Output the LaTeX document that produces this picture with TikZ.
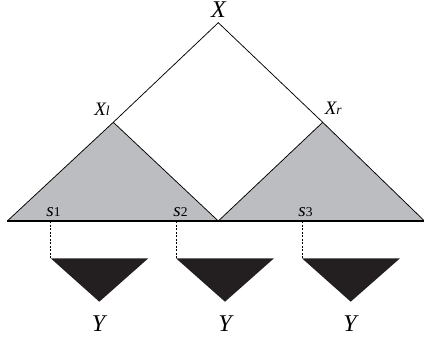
\documentclass[tikz,border=0pt]{standalone}
\usepackage{fontspec}
\setmainfont{Liberation Serif}
\definecolor{triGray}{RGB}{188,189,192}
\definecolor{triBlack}{RGB}{35,31,32}
\begin{document}
\begin{tikzpicture}[x=1pt,y=-1pt,
  big/.style={inner sep=0pt, anchor=base, font=\fontsize{24}{26}\selectfont\itshape},
  mid/.style={inner sep=0pt, anchor=base, font=\fontsize{19}{21}\selectfont\itshape},
  edge/.style={line width=0.75pt, draw=black},
  baseline/.style={line width=1.3pt, draw=black},
  graytri/.style={fill=triGray},
  blacktri/.style={fill=triBlack},
  link/.style={dash pattern=on 2pt off 1.5pt, line width=0.6pt, draw=black}]
\useasboundingbox (0,0) rectangle (424,338);
% vertices
\coordinate (X) at (218.3,22.7);
\coordinate (Xl) at (113.3,122.3);
\coordinate (Xr) at (322.7,122.3);
\coordinate (L) at (7.3,221);
\coordinate (M) at (218.3,221);
\coordinate (R) at (424.5,221);
% gray triangles
\fill[graytri] (L) -- (Xl) -- (M) -- cycle;
\fill[graytri] (M) -- (Xr) -- (R) -- cycle;
\draw[edge] (L) -- (Xl) -- (M) -- (Xr) -- (R);
\draw[edge] (Xl) -- (X) -- (Xr);
\draw[baseline] (L) -- (R);
% dashed links and black triangles
\foreach \i/\xa/\xb/\xc in {1/50.7/148.3/99.3, 2/176/274/225, 3/302/400/350.7}{
  \coordinate (d\i) at (\xa,221);
  \coordinate (ta\i) at (\xa,258.3);
  \coordinate (tb\i) at (\xb,258.3);
  \coordinate (tc\i) at (\xc,301.7);
  \draw[link] (d\i) -- (ta\i);
  \fill[blacktri] (ta\i) -- (tb\i) -- (tc\i) -- cycle;
}
% labels
\node[big] (lX) at (218.5,17.5) {X};
\node[mid] (lXl) at (102,115) {X{\fontsize{13.5}{14}\selectfont l}};
\node[mid] (lXr) at (333.3,114.5) {X{\fontsize{13.5}{14}\selectfont r}};
\node[mid] (ls1) at (53.5,216) {s{\upshape\fontsize{13.5}{14}\selectfont 1}};
\node[mid] (ls2) at (180.5,216) {s{\upshape\fontsize{13.5}{14}\selectfont 2}};
\node[mid] (ls3) at (305.5,216) {s{\upshape\fontsize{13.5}{14}\selectfont 3}};
\node[big] (lY1) at (98.5,331.5) {Y};
\node[big] (lY2) at (225,331.5) {Y};
\node[big] (lY3) at (350,331.5) {Y};
\end{tikzpicture}
\end{document}
